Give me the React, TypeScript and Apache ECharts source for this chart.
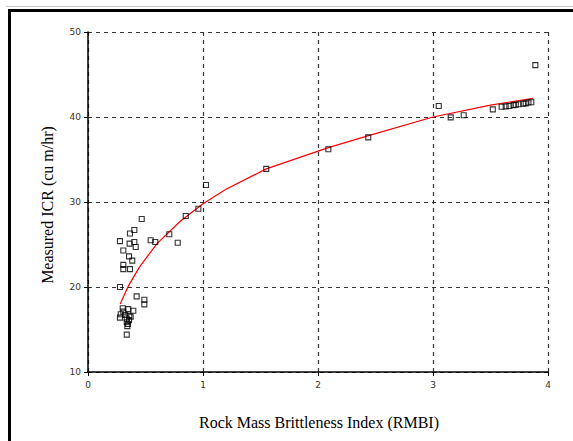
import React, { useEffect, useRef } from "react";
import * as echarts from "echarts";

// Rock Mass Brittleness Index (RMBI) values of the measured points
const rmbi = [
  0.467, 0.365, 0.403, 0.278, 0.362, 0.403, 0.415, 0.545, 0.585, 0.307, 0.357, 0.385,
  0.307, 0.307, 0.365, 0.278, 0.423, 0.49, 0.49, 0.302, 0.35, 0.394, 0.307, 0.285,
  0.322, 0.359, 0.371, 0.278, 0.337, 0.357, 0.337, 0.348, 0.342, 0.337,
  0.707, 0.78, 0.85, 0.96, 1.026, 1.55, 2.09, 2.437,
  3.05, 3.154, 3.267, 3.52, 3.597, 3.632, 3.664, 3.7, 3.72, 3.745, 3.785, 3.806, 3.83, 3.855, 3.89,
];
// Measured ICR (cu m/hr)
const icr = [
  28.0, 26.3, 26.7, 25.4, 25.1, 25.3, 24.7, 25.5, 25.3, 24.3, 23.6, 23.1,
  22.6, 22.1, 22.1, 20.0, 18.9, 18.5, 17.96, 17.5, 17.4, 17.2, 17.1, 16.8,
  16.7, 16.6, 16.5, 16.4, 16.3, 16.1, 15.85, 15.65, 15.4, 14.4,
  26.2, 25.2, 28.35, 29.2, 32.0, 33.9, 36.2, 37.6,
  41.3, 39.96, 40.2, 40.9, 41.2, 41.25, 41.3, 41.4, 41.45, 41.5, 41.57, 41.6, 41.7, 41.73, 46.1,
];
// Fitted trend line
const fitX = [0.28, 0.35, 0.45, 0.6, 0.8, 1.0, 1.2, 1.55, 2.09, 2.44, 3.0, 3.5, 3.87];
const fitY = [18.0, 20.1, 22.4, 25.1, 27.7, 29.8, 31.5, 33.9, 36.4, 37.8, 40.0, 41.4, 42.2];

const xTicks = [0, 1, 2, 3, 4];
const yTicks = [10, 20, 30, 40, 50];

export default function App() {
  const ref = useRef<HTMLDivElement>(null);
  useEffect(() => {
    if (!ref.current) return;
    const chart = echarts.init(ref.current, null, { renderer: "svg" });
    const tickFont = { fontSize: 9, color: "#333", fontFamily: "DejaVu Sans" };
    const split = { show: true, lineStyle: { color: "#333", width: 1.2, type: [4, 4] as any } };
    chart.setOption({
      animation: false,
      backgroundColor: "#fff",
      grid: { left: 88, top: 32, width: 460, height: 340, containLabel: false },
      xAxis: {
        type: "value",
        min: xTicks[0],
        max: xTicks[xTicks.length - 1],
        interval: 1,
        axisLine: { show: true, onZero: false, lineStyle: { color: "#000", width: 1.5 } },
        axisTick: { show: true, length: 4, lineStyle: { color: "#000" } },
        axisLabel: { ...tickFont, margin: 8 },
        splitLine: split,
      },
      yAxis: {
        type: "value",
        min: yTicks[0],
        max: yTicks[yTicks.length - 1],
        interval: 10,
        axisLine: { show: true, onZero: false, lineStyle: { color: "#000", width: 1.5 } },
        axisTick: { show: true, length: 4, lineStyle: { color: "#000" } },
        axisLabel: { ...tickFont, margin: 7 },
        splitLine: split,
      },
      graphic: [
        { type: "rect", shape: { x: 6, y: 6, width: 567, height: 1 }, style: { fill: "#c8c8c8" } },
        { type: "rect", shape: { x: 8, y: 9, width: 565, height: 3 }, style: { fill: "#000" } },
        { type: "rect", shape: { x: 8, y: 9, width: 3, height: 432 }, style: { fill: "#000" } },
        {
          type: "text",
          x: 319,
          y: 422,
          style: {
            text: "Rock Mass Brittleness Index (RMBI)",
            font: '16px "Liberation Serif"',
            fill: "#000",
            align: "center",
            verticalAlign: "middle",
          },
        },
        {
          type: "text",
          x: 47,
          y: 205,
          rotation: Math.PI / 2,
          style: {
            text: "Measured ICR (cu m/hr)",
            font: '16px "Liberation Serif"',
            fill: "#000",
            align: "center",
            verticalAlign: "middle",
          },
        },
      ],
      series: [
        {
          type: "line",
          data: fitX.map((x, i) => [x, fitY[i]]),
          showSymbol: false,
          symbol: "none",
          lineStyle: { color: "#ff0000", width: 1.2 },
          z: 2,
        },
        {
          type: "scatter",
          data: rmbi.map((x, i) => [x, icr[i]]),
          symbol: "rect",
          symbolSize: 5,
          itemStyle: { color: "rgba(0,0,0,0)", borderColor: "#000", borderWidth: 1.1 },
          z: 3,
        },
      ],
    });
    return () => chart.dispose();
  }, []);
  return (
    <div
      ref={ref}
      style={{ position: "absolute", left: 0, top: 0, width: 573, height: 441 }}
    />
  );
}
